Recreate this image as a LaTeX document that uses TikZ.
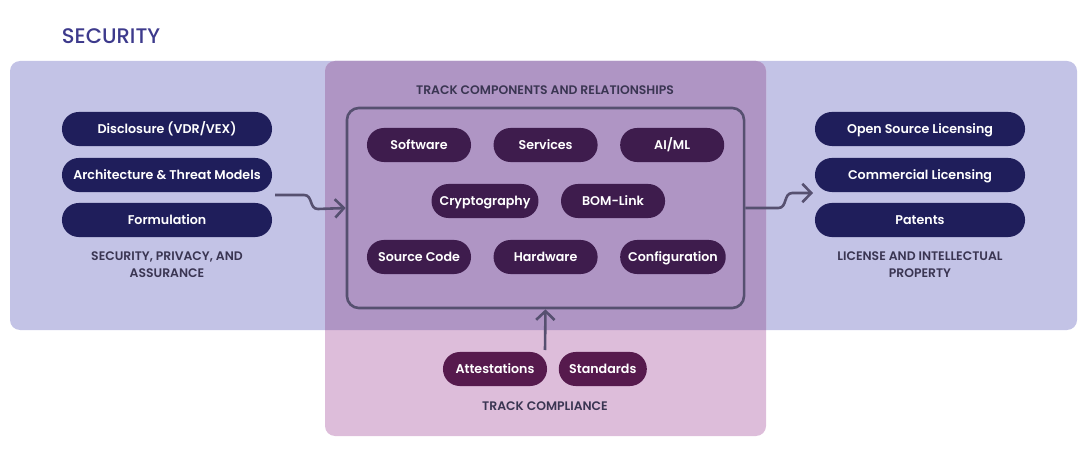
\documentclass[tikz,border=0pt]{standalone}
\usepackage{fontspec}
\setmainfont{Poppins}
\newfontfamily\pillfont{Poppins SemiBold}
\newfontfamily\capfont{Poppins Medium}
\usepackage{tikz}
\usetikzlibrary{
  arrows.meta,
  positioning
}
\definecolor{scTitle}{HTML}{3D3A8C}
\definecolor{scBlue}{HTML}{C3C3E6}
\definecolor{scPink}{HTML}{DDBDDA}
\definecolor{scMix}{HTML}{AF95C4}
\definecolor{scNavy}{HTML}{1F1E5B}
\definecolor{scPlum}{HTML}{3E1C4D}
\definecolor{scWine}{HTML}{561A4D}
\definecolor{scInk}{HTML}{3A3552}
\definecolor{scLine}{HTML}{565070}
\tikzset{
  pill/.style={
    rounded corners=4.2mm, minimum height=8.5mm, inner xsep=2mm,
    text height=8pt, text depth=1pt,
    text=white, font=\pillfont\fontsize{9}{11}\selectfont
  },
  secpill/.style={pill, fill=scNavy, minimum width=5.25cm},
  comppill/.style={pill, fill=scPlum, minimum width=2.6cm},
  regpill/.style={pill, fill=scWine},
  panel/.style={rounded corners=2.5mm},
  caption/.style={font=\pillfont\fontsize{8.8}{12}\selectfont, text=scInk, align=center},
  bomframe/.style={draw=scLine, line width=0.65mm, rounded corners=3mm},
  link/.style={-{Straight Barb[length=2.2mm, width=4.6mm, line width=0.65mm]},
    line width=0.65mm, scLine}
}

\begin{document}
\begin{tikzpicture}[x=0.025cm, y=-0.025cm]
  \useasboundingbox (0,0) rectangle (1080,459);
  % panels
  \fill[panel, scBlue] (10,61) rectangle (1077,330);
  \fill[panel, scPink] (325,61) rectangle (766,436);
  \begin{scope}
    \clip[panel] (10,61) rectangle (1077,330);
    \fill[panel, scMix] (325,61) rectangle (766,436);
  \end{scope}
  \node[anchor=west, text=scTitle, font=\capfont\fontsize{15}{17}\selectfont] (title) at (57,36) {SECURITY};

  % security side
  \node[secpill] (vdr) at (167,129) {Disclosure (VDR/VEX)};
  \node[secpill] (arch) at (167,175) {Architecture \& Threat Models};
  \node[secpill] (form) at (167,220) {Formulation};
  \node[caption] (seccap) at (167,265) {SECURITY, PRIVACY, AND\\ASSURANCE};

  % license side
  \node[secpill] (oss) at (920,129) {Open Source Licensing};
  \node[secpill] (comm) at (920,175) {Commercial Licensing};
  \node[secpill] (pat) at (920,220) {Patents};
  \node[caption] (liccap) at (920,265) {LICENSE AND INTELLECTUAL\\PROPERTY};

  % components
  \node[caption] (compcap) at (545,90) {TRACK COMPONENTS AND RELATIONSHIPS};
  \node[bomframe, minimum width=9.925cm, minimum height=5cm] (inner) at (545.5,208) {};
  \node[comppill] (sw) at (419,145) {Software};
  \node[comppill, right=0.55cm of sw] (svc) {Services};
  \node[comppill, right=0.55cm of svc] (aiml) {AI/ML};
  \node[comppill] (crypto) at (485,201) {Cryptography};
  \node[comppill, right=0.55cm of crypto] (bom) {BOM-Link};
  \node[comppill] (src) at (419,257) {Source Code};
  \node[comppill, right=0.55cm of src] (hw) {Hardware};
  \node[comppill, right=0.55cm of hw] (cfg) {Configuration};

  % compliance
  \node[regpill, minimum width=2.6cm] (att) at (495,369) {Attestations};
  \node[regpill, minimum width=2.2cm, right=0.28cm of att] (std) {Standards};
  \node[caption] (regcap) at (545,406) {TRACK COMPLIANCE};

  \coordinate (secout) at (275,195);
  \coordinate (licin) at (813,193);
  \coordinate (regout) at (545,350);
  \draw[link] (secout) -- ++(29,0) .. controls +(9,0) and +(-9,0) .. ++(14,14) -- (inner.west);
  \draw[link] (inner.east) -- ++(33,0) .. controls +(9,0) and +(-9,0) .. ++(14,-15) -- (licin);
  \draw[link] (regout) -- (inner.south);
\end{tikzpicture}
\end{document}
